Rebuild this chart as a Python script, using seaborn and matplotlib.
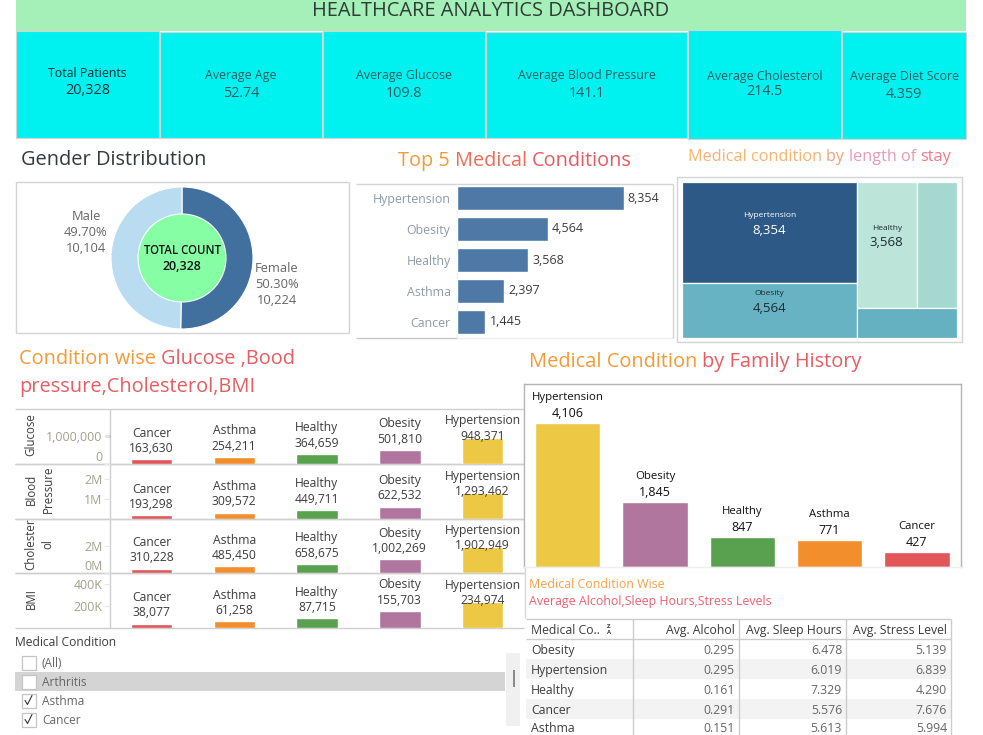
import matplotlib
matplotlib.use('Agg')
import matplotlib.pyplot as plt
from matplotlib.patches import Rectangle
import seaborn as sns

sns.set_theme(style='white')
plt.rcParams['font.family'] = ['Open Sans', 'DejaVu Sans']

W, H = 983, 735

# KPI cards
kpi_labels = ['Total Patients', 'Average Age', 'Average Glucose', 'Average Blood Pressure',
              'Average Cholesterol', 'Average Diet Score']
kpi_values = ['20,328', '52.74', '109.8', '141.1', '214.5', '4.359']

# gender
gender_labels = ['Female', 'Male']
gender_counts = [10224, 10104]
gender_pct = ['50.30%', '49.70%']
total_count = 20328

# top 5 / treemap
top_conditions = ['Hypertension', 'Obesity', 'Healthy', 'Asthma', 'Cancer']
top_counts = [8354, 4564, 3568, 2397, 1445]

# condition wise rows
row_conditions = ['Cancer', 'Asthma', 'Healthy', 'Obesity', 'Hypertension']
glucose_vals = [163630, 254211, 364659, 501810, 948371]
bp_vals = [193298, 309572, 449711, 622532, 1293462]
chol_vals = [310228, 485450, 658675, 1002269, 1902949]
bmi_vals = [38077, 61258, 87715, 155703, 234974]

# family history
family_conditions = ['Hypertension', 'Obesity', 'Healthy', 'Asthma', 'Cancer']
family_counts = [4106, 1845, 847, 771, 427]

# table
table_conditions = ['Obesity', 'Hypertension', 'Healthy', 'Cancer', 'Asthma']
avg_alcohol = [0.295, 0.295, 0.161, 0.291, 0.151]
avg_sleep = [6.478, 6.019, 7.329, 5.576, 5.613]
avg_stress = [5.139, 6.839, 4.290, 7.676, 5.994]
table_headers = ['Avg. Alcohol', 'Avg. Sleep Hours', 'Avg. Stress Level']

# filter
filter_items = ['(All)', 'Arthritis', 'Asthma', 'Cancer']
filter_checked = [False, False, True, True]

cond_colors = {'Hypertension': '#ecc845', 'Obesity': '#b0769e', 'Healthy': '#59a14f',
               'Asthma': '#f28e2b', 'Cancer': '#e15759'}
tree_colors = ['#2c5985', '#68b3c3', '#bce4d8', '#a5d8d1', '#65b0c1']
GRID = '#d4d4d4'
DARK = '#3c3c3c'
MID = '#666666'

fig = plt.figure(figsize=(W / 100, H / 100), dpi=100)


def ax_px(x0, y0, x1, y1, **kw):
    # axes placed with pixel coords, y from the top
    return fig.add_axes([x0 / W, 1 - y1 / H, (x1 - x0) / W, (y1 - y0) / H], **kw)


# full size layer for boxes and text
bg = ax_px(0, 0, W, H)
bg.set_xlim(0, W)
bg.set_ylim(H, 0)
bg.axis('off')
renderer = fig.canvas.get_renderer()


def box(x0, y0, x1, y1, fc='none', ec='none', lw=1, z=1, a=bg):
    a.add_patch(Rectangle((x0, y0), x1 - x0, y1 - y0, fc=fc, ec=ec, lw=lw, zorder=z))


def line(x0, y0, x1, y1, c=GRID, lw=1, z=2):
    bg.plot([x0, x1], [y0, y1], color=c, lw=lw, zorder=z, solid_capstyle='butt')


def text_width(s, size, **kw):
    t = bg.text(0, 0, s + '.', fontsize=size, **kw)
    d = bg.text(0, 0, '.', fontsize=size, **kw)
    w = t.get_window_extent(renderer).width - d.get_window_extent(renderer).width
    t.remove()
    d.remove()
    return w


def color_text(x, y, runs, size):
    # titles change colour along the line
    prefix = ''
    for s, c in runs:
        bg.text(x + text_width(prefix, size), y + 2, s, color=c, fontsize=size, va='center', ha='left', zorder=5)
        prefix += s


# banner + cards
box(16, 0, 966, 31, fc='#a4f0b8')
bg.text(491, 11, 'HEALTHCARE ANALYTICS DASHBOARD', ha='center', va='center', fontsize=14.4, color='#2f3b35')
card_x = [(16, 159), (160, 322), (323, 485), (486, 687), (688, 841), (842, 966)]
card_y = [(31, 138), (32, 138), (31, 138), (32, 138), (30, 139), (32, 139)]
label_y = [73, 75, 75, 75, 76, 76]
value_y = [90, 93, 93, 93, 91, 94]
for i in range(6):
    (x0, x1), (y0, y1) = card_x[i], card_y[i]
    box(x0, y0, x1, y1, fc='#00f2f0', ec=GRID, lw=0.8)
    xc = (x0 + x1) / 2
    col = '#0c2c30' if i == 0 else '#2f5a60'
    bg.text(xc, label_y[i], kpi_labels[i], ha='center', va='center', fontsize=8.9, color=col)
    bg.text(xc, value_y[i], kpi_values[i], ha='center', va='center', fontsize=10.4, color=col)

# titles
color_text(21, 158, [('Gender Distribution', '#33383d')], 14.4)
color_text(398, 159, [('Top 5 ', '#f59a36'), ('Medical ', '#ee6a55'), ('Conditions', '#e65b62')], 14.3)
color_text(688, 155, [('Medical condition ', '#f8b36c'), ('by ', '#f0a27a'), ('length ', '#e89ab8'),
                      ('of ', '#ea96ae'), ('stay', '#ee7a88')], 11.7)
color_text(19, 357, [('Condition wise ', '#f59a36'), ('Glucose ,Bood', '#e85c62')], 14.4)
color_text(19, 385, [('pressure,Cholesterol,BMI', '#e85c62')], 14.4)
color_text(529, 360, [('Medical Condition ', '#f59a36'), ('by Family History', '#e85c62')], 14.4)
color_text(529, 582, [('Medical Condition Wise', '#f9a045')], 8.9)
color_text(529, 599, [('Average Alcohol,Sleep Hours,Stress Levels', '#ef5f6f')], 8.9)

# gender donut
box(16, 182, 348.5, 333, ec=GRID, lw=1)
ax = ax_px(111, 187, 253, 329)
ax.pie(gender_counts, colors=['#41709f', '#b9dcf0'], startangle=90, counterclock=False, radius=1,
       wedgeprops=dict(width=1, edgecolor='white', linewidth=0.8))
ax.set_xlim(-1, 1)
ax.set_ylim(-1, 1)
ax.add_patch(plt.Circle((0, 0), 44 / 71, fc='#86ffa4', ec='white', lw=0.8, zorder=5))
ax.text(0, 8 / 71, 'TOTAL COUNT', ha='center', va='center', fontsize=8.3, fontweight='semibold', color='#111111', zorder=6)
ax.text(0, -8 / 71, f'{total_count:,}', ha='center', va='center', fontsize=9, fontweight='semibold', color='#111111', zorder=6)
gender_pos = [(277, 268), (86, 216)]
for i in range(2):
    x, y = gender_pos[i]
    for j, s in enumerate([gender_labels[i], gender_pct[i], f'{gender_counts[i]:,}']):
        bg.text(x, y + 16 * j, s, ha='center', va='center', fontsize=9.3, color=MID)

# top 5 bars
ax = ax_px(456.5, 182.5, 672.5, 337.5)
sns.barplot(y=top_conditions, x=top_counts, color='#4e79a7', saturation=1, width=0.77, ax=ax)
ax.set_xlim(0, 10804)
ax.set_xticks([])
sns.despine(ax=ax, left=True, bottom=True, top=True, right=True)
ax.patch.set_alpha(0)
ax.tick_params(axis='y', length=0, pad=4.3, labelsize=8.9, labelcolor='#8e9aa8')
for i, v in enumerate(top_counts):
    ax.annotate(f'{v:,}', (v, i), xytext=(3, 0), textcoords='offset points', va='center', fontsize=9, color=DARK)
line(356, 183.5, 673, 183.5)
line(356, 337.5, 457, 337.5, c='#c8c8c8')
line(457, 337.5, 673, 337.5, c='#efefef')
line(457, 183.5, 457, 338, c='#efefef')
line(673, 183.5, 673, 338)

# treemap, cells worked out from the counts
box(677, 177, 962, 342, ec=GRID, lw=1)
ax = ax_px(682, 182, 957, 338)
ax.set_xlim(0, 1)
ax.set_ylim(1, 0)
ax.axis('off')
total = sum(top_counts)
left_w = (top_counts[0] + top_counts[1]) / total
right_w = 1 - left_w
split_left = top_counts[0] / (top_counts[0] + top_counts[1])
top_right = top_counts[2] + top_counts[3]
split_right = top_right / (top_right + top_counts[4])
split_mid = top_counts[2] / top_right
cells = [(0, 0, left_w, split_left), (0, split_left, left_w, 1 - split_left),
         (left_w, 0, right_w * split_mid, split_right),
         (left_w + right_w * split_mid, 0, right_w * (1 - split_mid), split_right),
         (left_w, split_right, right_w, 1 - split_right)]
for i, (x, y, w, h) in enumerate(cells):
    ax.add_patch(Rectangle((x, y), w, h, fc=tree_colors[i], ec='white', lw=0.9))
    if i < 3:
        col = 'white' if i == 0 else '#1c2b30'
        cx, cy = x + w / 2, y + h / 2
        ax.annotate(top_conditions[i], (cx, cy), xytext=(0, 12), textcoords='offset points', ha='center', va='center', fontsize=6, color=col)
        ax.annotate(f'{top_counts[i]:,}', (cx, cy), xytext=(0, 1.5), textcoords='offset points', ha='center', va='center', fontsize=9.5, color=col)

# condition wise small multiples
rows = [('Glucose', glucose_vals, (409, 464), 1985000, [0, 1000000], ['0', '1,000,000']),
        ('Blood\nPressure', bp_vals, (464, 519), 2750000, [1000000, 2000000], ['1M', '2M']),
        ('Cholester\nol', chol_vals, (519, 573), 3970000, [0, 2000000], ['0M', '2M']),
        ('BMI', bmi_vals, (573, 628), 500000, [200000, 400000], ['200K', '400K'])]
row_colors = [cond_colors[c] for c in row_conditions]
for name, vals, (y0, y1), ymax, ticks, tick_labels in rows:
    ax = ax_px(110, y0, 524, y1)
    sns.barplot(x=row_conditions, y=vals, hue=row_conditions, palette=row_colors, saturation=1,
                width=0.5, legend=False, ax=ax)
    ax.set_ylim(0, ymax)
    ax.set_xticks([])
    ax.set_xlabel('')
    ax.set_yticks(ticks)
    ax.set_yticklabels(tick_labels)
    ax.tick_params(axis='y', length=4, width=0.8, color='#e6e6e6', pad=1.5, labelsize=8.9, labelcolor='#a3a08f', left=True)
    if ticks[0] == 0:
        ax.get_yticklabels()[0].set_va('bottom')
    sns.despine(ax=ax, top=True, right=True, bottom=True, left=True)
    ax.patch.set_alpha(0)
    for i, v in enumerate(vals):
        # the longest bar has its label pushed down onto the bar
        off = 1.2 if i == 4 else 7.8
        ax.annotate(f'{v:,}', (i, v), xytext=(0, off), textcoords='offset points', ha='center', va='center',
                    fontsize=8.7, color=DARK, annotation_clip=False)
        ax.annotate(row_conditions[i], (i, v), xytext=(0, off + 11), textcoords='offset points', ha='center', va='center',
                    fontsize=8.7, color=DARK, annotation_clip=False)
    line(15, y0, 524, y0, c='#cfcfcf')
    line(15, y1, 524, y1, c='#cfcfcf')
    yc = (y0 + y1) / 2 - 2
    parts = name.split('\n')
    for j, p in enumerate(parts):
        bg.text(31 + 17 * j, yc, p, rotation=90, ha='center', va='center', fontsize=8.3, color=DARK, zorder=5)
line(110, 409, 110, 628, c='#cfcfcf')
line(105, 436.3, 110, 436.3, c='#111111', lw=0.9, z=6)

# filter
bg.text(15, 642, 'Medical Condition', fontsize=8.7, va='center', color=DARK)
box(15, 672, 505, 691, fc='#d4d4d4')
box(506, 653, 520, 726, fc='#f0f0f0')
box(513, 670, 515, 687, fc='#8a8a8a')
for i, item in enumerate(filter_items):
    yc = 662.5 + 19 * i
    box(21.5, yc - 7, 35.5, yc + 7, fc='white', ec='#c4c4c4', lw=0.9, z=3)
    bg.text(42, yc + 1, item, fontsize=8.6, va='center', color=MID, zorder=4)
    if filter_checked[i]:
        bg.plot([25, 27.5, 32], [yc, yc + 4, yc - 5], color='#333333', lw=0.8, zorder=4)

# family history bars
ax = ax_px(524, 384, 960.5, 567)
fam_colors = [cond_colors[c] for c in family_conditions]
sns.barplot(x=family_conditions, y=family_counts, hue=family_conditions, palette=fam_colors, saturation=1,
            width=0.75, legend=False, ax=ax)
ax.set_ylim(0, 5218)
ax.set_xticks([])
ax.set_yticks([])
ax.set_xlabel('')
for s in ax.spines.values():
    s.set_color('#b4b4b4')
    s.set_linewidth(1)
ax.spines['bottom'].set_color('#eeeeee')
for i, v in enumerate(family_counts):
    ax.annotate(f'{v:,}', (i, v), xytext=(0, 7), textcoords='offset points', ha='center', va='center', fontsize=9, color='#111111')
    ax.annotate(family_conditions[i], (i, v), xytext=(0, 18.3), textcoords='offset points', ha='center', va='center', fontsize=8.2, color='#111111')
line(524.5, 567, 524.5, 618, c='#d8d8d8')

# table
col_x = [526, 633, 739, 846, 951]
head_top, head_bot, row_h = 619, 639, 20
for i in range(len(table_conditions)):
    y0 = head_bot + row_h * i
    if i % 2 == 1:
        box(526, y0, 951, y0 + row_h, fc='#f3f3f3')
    # last row sits at the bottom edge, keep its text inside the picture
    yt = min(y0 + 11.5, H - 7)
    bg.text(531, yt, table_conditions[i], fontsize=8.8, va='center', color=DARK, zorder=4)
    for j, col in enumerate([avg_alcohol, avg_sleep, avg_stress]):
        bg.text(col_x[j + 2] - 4, yt, f'{col[i]:.3f}', fontsize=8.8, va='center', ha='right', color=MID, zorder=4)
bg.text(531, 630.5, 'Medical Co..', fontsize=8.8, va='center', color=DARK, zorder=4)
bg.text(609, 627, 'Z', fontsize=4.2, fontweight='bold', ha='center', va='center', color=DARK, zorder=4)
bg.text(609, 633, 'A', fontsize=4.2, fontweight='bold', ha='center', va='center', color=DARK, zorder=4)
for j, h in enumerate(table_headers):
    bg.text(col_x[j + 2] - 4, 630.5, h, fontsize=8.8, va='center', ha='right', color=DARK, zorder=4)
line(526, head_top, 951, head_top, c='#cccccc')
line(526, head_bot, 951, head_bot, c='#cccccc')
for x in col_x[1:]:
    line(x, head_top, x, H, c='#cccccc')

plt.savefig('out.png', dpi=100)
